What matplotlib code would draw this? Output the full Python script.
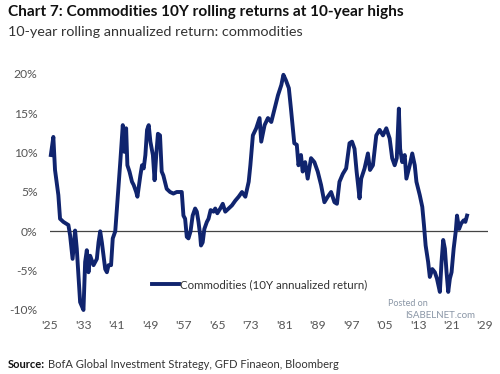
import numpy as np
import matplotlib.pyplot as plt

# 10-year rolling annualized return of commodities
years = [1925.2, 1925.8, 1926.2, 1927.0, 1927.4, 1928.2, 1929.4, 1929.8, 1930.4, 1931.0,
         1931.4, 1932.2, 1933.0, 1933.4, 1933.8, 1934.2, 1934.6, 1935.4, 1936.2, 1936.6,
         1937.0, 1937.4, 1938.2, 1938.6, 1939.0, 1939.6, 1940.0, 1940.6, 1941.0, 1941.8,
         1942.4, 1942.8, 1943.2, 1943.5, 1944.0, 1944.6, 1945.0, 1945.6, 1945.9, 1946.6,
         1947.0, 1947.4, 1947.8, 1948.2, 1948.6, 1949.0, 1949.6, 1950.0, 1950.4, 1950.8,
         1951.3, 1951.7, 1952.1, 1952.9, 1953.7, 1954.5, 1955.3, 1956.5, 1956.9, 1957.3,
         1957.7, 1958.1, 1958.6, 1959.1, 1959.7, 1960.1, 1960.5, 1960.9, 1961.1, 1961.5,
         1961.9, 1962.5, 1962.9, 1963.4, 1964.1, 1964.5, 1965.0, 1965.7, 1966.3, 1966.9,
         1967.7, 1968.5, 1969.3, 1970.1, 1970.9, 1971.7, 1972.5, 1972.9, 1973.5, 1974.3,
         1975.1, 1975.5, 1976.3, 1977.1, 1977.9, 1978.7, 1979.5, 1980.3, 1980.8, 1981.4,
         1982.1, 1982.6, 1983.4, 1984.0, 1984.4, 1985.0, 1985.4, 1986.0, 1986.6, 1987.4,
         1988.2, 1989.0, 1989.8, 1990.6, 1991.4, 1992.2, 1993.0, 1993.6, 1994.2, 1995.0,
         1995.8, 1996.6, 1997.2, 1997.8, 1998.3, 1999.0, 1999.4, 2000.2, 2001.0, 2001.5,
         2002.2, 2003.0, 2003.8, 2004.6, 2005.4, 2006.2, 2006.8, 2007.4, 2007.9, 2008.4,
         2008.7, 2009.2, 2009.8, 2010.2, 2011.0, 2011.6, 2012.2, 2012.6, 2013.4, 2014.0,
         2014.4, 2014.8, 2015.4, 2015.8, 2016.4, 2017.0, 2017.5, 2018.2, 2018.6, 2019.0,
         2019.4, 2019.8, 2020.2, 2020.6, 2021.0, 2021.5, 2022.0, 2022.3, 2022.8, 2023.3,
         2023.9, 2024.3, 2024.7]
returns = [9.7, 12.0, 7.8, 4.6, 1.6, 1.2, 0.8, -0.5, -3.5, 0.1,
           -2.2, -9.0, -10.0, -3.9, -2.4, -5.2, -3.1, -4.3, -3.5, -1.4,
           0.0, -1.4, -4.8, -5.2, -4.3, -4.3, -0.9, 0.0, 2.9, 8.8,
           13.5, 10.1, 13.1, 8.4, 7.6, 6.3, 5.9, 5.0, 4.4, 7.1,
           8.4, 8.0, 9.7, 12.9, 13.5, 11.4, 9.7, 6.5, 9.7, 12.4,
           12.2, 7.6, 7.1, 5.4, 5.0, 4.8, 5.0, 5.0, 2.0, 1.6,
           -0.7, -0.9, 0.0, 2.0, 2.9, 2.5, 1.2, -0.5, -1.8, -1.4,
           0.3, 1.2, 1.6, 2.7, 2.5, 2.9, 2.3, 2.9, 3.5, 2.5,
           2.9, 3.3, 3.9, 4.4, 5.0, 4.4, 6.3, 8.4, 12.2, 13.1,
           14.4, 11.4, 13.5, 14.4, 13.9, 15.6, 17.3, 18.6, 19.9, 19.2,
           18.2, 15.6, 11.2, 11.0, 8.4, 9.7, 7.6, 8.8, 6.7, 9.3,
           8.8, 7.6, 5.9, 3.7, 4.4, 5.0, 3.7, 3.5, 6.3, 7.3,
           8.0, 11.2, 11.4, 10.5, 7.6, 4.2, 6.7, 8.0, 9.9, 7.8,
           8.4, 12.2, 12.9, 12.2, 13.1, 11.8, 9.3, 8.4, 9.3, 15.6,
           10.5, 8.8, 9.7, 6.7, 8.4, 9.9, 8.4, 6.3, 4.6, 3.1,
           0.8, -1.8, -3.9, -5.8, -4.8, -5.2, -6.0, -7.7, -3.9, -1.1,
           -2.2, -5.2, -7.7, -6.0, -5.2, -2.2, 0.0, 2.0, 0.3, 1.0,
           1.4, 1.2, 2.0]

xtick_years = list(range(1925, 2030, 8))
xtick_labels = ["'" + str(y)[2:] for y in xtick_years]
ytick_values = [-10, -5, 0, 5, 10, 15, 20]
ytick_labels = [f"{v}%" for v in ytick_values]

navy = '#10246e'
grey = '#555555'
font = 'Lato'

fig = plt.figure(figsize=(5, 3.74), dpi=100)
ax = fig.add_axes([50 / 500, 1 - 310 / 374, 438 / 500, 236 / 374])

ax.plot(years, returns, color=navy, lw=2.8, solid_joinstyle='round',
        label='Commodities (10Y annualized return)', clip_on=False, zorder=3)
ax.axhline(0, color='#444444', lw=0.9, zorder=2)

ax.set_xlim(1925, 1925 + 438 / 4.183)
ax.set_ylim(-10, 20)
ax.set_xticks(xtick_years)
ax.set_xticklabels(xtick_labels)
ax.set_yticks(ytick_values)
ax.set_yticklabels(ytick_labels)
for s in ax.spines.values():
    s.set_visible(False)
ax.tick_params(length=0, labelsize=8.7, labelcolor=grey)
ax.tick_params(axis='y', pad=9)
ax.tick_params(axis='x', pad=7)
for lab in ax.get_xticklabels() + ax.get_yticklabels():
    lab.set_family(font)

leg = ax.legend(loc='lower left', bbox_to_anchor=(0.21, 0.04), frameon=False,
                handlelength=2.3, handletextpad=0.1, prop={'family': font, 'size': 8.3})
for t in leg.get_texts():
    t.set_color('#333333')

# watermark
fig.text(388 / 500, 1 - 303 / 374, 'Posted on', fontsize=6.5, color='#8a96a6',
         family=font, va='center')
fig.text(405 / 500, 1 - 316 / 374, 'ISABELNET.com', fontsize=7, color='#8a96a6',
         family=font, va='center')

fig.text(8 / 500, 1 - 12 / 374, 'Chart 7: Commodities 10Y rolling returns at 10-year highs',
         fontsize=11.1, weight='bold', color='#111111', family=font, va='center')
fig.text(8 / 500, 1 - 32 / 374, '10-year rolling annualized return: commodities',
         fontsize=10.4, color='#333333', family=font, va='center')

src = fig.text(8 / 500, 1 - 365 / 374, 'Source:', fontsize=8, weight='bold',
               color='#111111', family=font, va='center')
renderer = fig.canvas.get_renderer()
bb = src.get_window_extent(renderer)
fig.text((bb.x1 + 3) / 500, 1 - 365 / 374,
         'BofA Global Investment Strategy, GFD Finaeon, Bloomberg',
         fontsize=8, color='#333333', family=font, va='center')

fig.savefig('out.png', dpi=100)
